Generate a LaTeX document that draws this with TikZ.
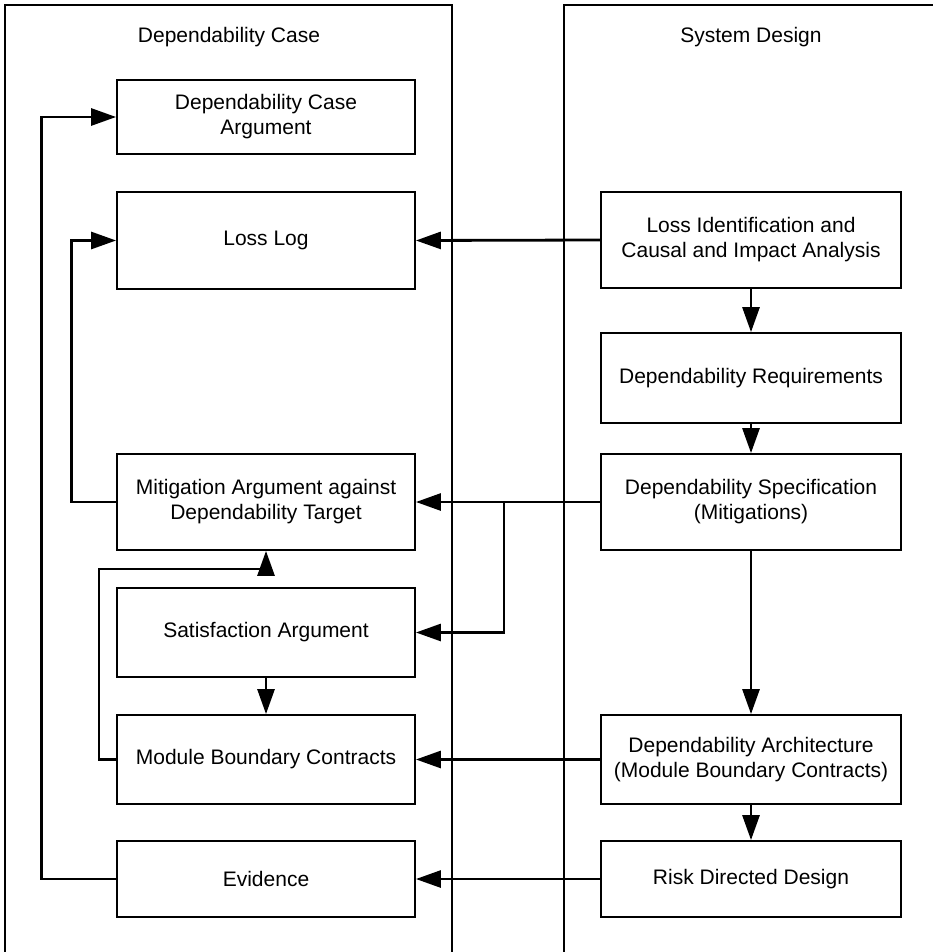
\documentclass[tikz,border=0pt]{standalone}
\usepackage{fontspec}
\setmainfont{Liberation Sans}
\usetikzlibrary{arrows.meta}
\begin{document}
\begin{tikzpicture}[x=1pt,y=-1pt,
  box/.style={draw, line width=1.8pt, minimum width=298pt, inner sep=0pt, align=center,
              font=\fontsize{21}{25}\selectfont, fill=white},
  conn/.style={line width=2.8pt, -{Triangle[length=25pt,width=17pt]}},
  panel/.style={line width=1.5pt},
  ttl/.style={font=\fontsize{21}{25}\selectfont}]
\useasboundingbox (0,0) rectangle (933,952);
\clip (0,0) rectangle (933,952);
% panels
\draw[panel] (5,970) -- (5,5) -- (452,5) -- (452,970);
\draw[panel] (564,970) -- (564,5) -- (950,5) -- (950,970);
\node[ttl] (tdc) at (229,37) {Dependability Case};
\node[ttl] (tsd) at (751,37) {System Design};
% left boxes
\node[box, minimum height=74pt] (dca) at (266,117) {Dependability Case\\Argument};
\node[box, minimum height=97pt] (ll) at (266,240.5) {Loss Log};
\node[box, minimum height=96pt] (ma) at (266,502) {Mitigation Argument against\\Dependability Target};
\node[box, minimum height=89pt] (sa) at (266,632.5) {Satisfaction Argument};
\node[box, minimum height=89pt] (mbc) at (266,759.5) {Module Boundary Contracts};
\node[box, minimum height=76pt] (ev) at (266,879) {Evidence};
% right boxes
\node[box, minimum width=300pt, minimum height=96pt] (lic) at (751,240) {Loss Identification and\\Causal and Impact Analysis};
\node[box, minimum width=300pt, minimum height=90pt] (dr) at (751,378) {Dependability Requirements};
\node[box, minimum width=300pt, minimum height=96pt] (ds) at (751,502) {Dependability Specification\\(Mitigations)};
\node[box, minimum width=300pt, minimum height=89pt] (da) at (751,759.5) {Dependability Architecture\\(Module Boundary Contracts)};
\node[box, minimum width=300pt, minimum height=76pt] (rdd) at (751,879) {Risk Directed Design};
% right column flow
\draw[conn] (lic.south) -- (dr.north);
\draw[conn] (dr.south) -- (ds.north);
\draw[conn] (ds.south) -- (da.north);
\draw[conn] (da.south) -- (rdd.north);
% cross connectors
\draw[conn] (lic.west) -- (ll.east);
\draw[conn] (ds.west) -- (ma.east);
\coordinate (br) at (504,502);
\draw[conn] (br) |- (sa.east);
\draw[conn] (da.west) -- (mbc.east);
\draw[conn] (rdd.west) -- (ev.east);
% left column flow
\draw[conn] (sa.south) -- (mbc.north);
\draw[conn] (ma.west) -- ++(-45,0) |- (ll.west);
\draw[conn] (ev.west) -- ++(-75,0) |- (dca.west);
\coordinate (mbcup) at (99,569);
\draw[conn] (mbc.west) -| (mbcup) -| (ma.south);
\end{tikzpicture}
\end{document}
